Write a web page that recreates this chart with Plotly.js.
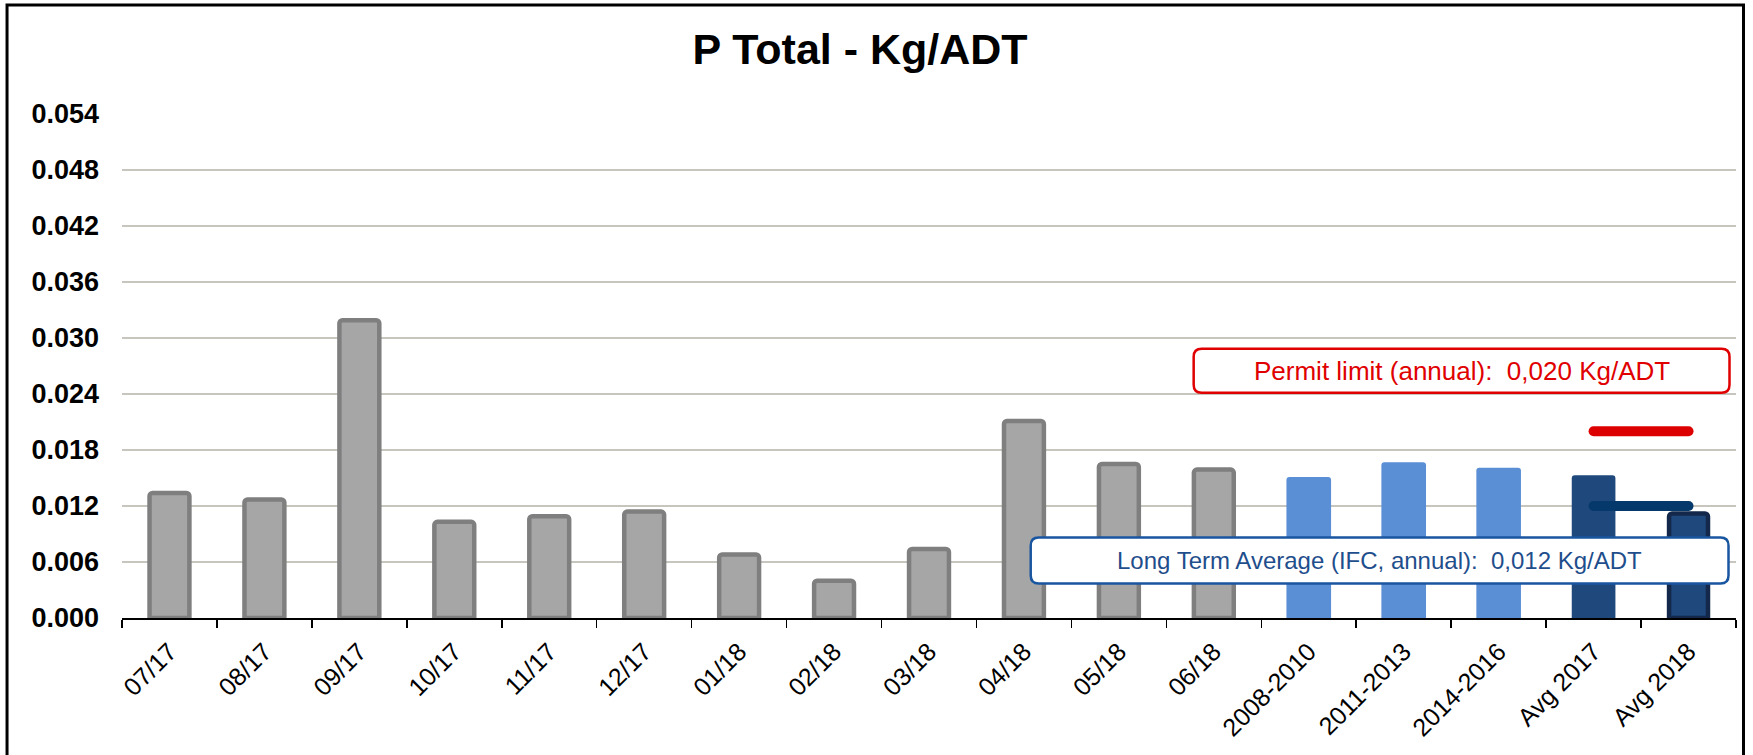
<!DOCTYPE html>
<html>
<head>
<meta charset="utf-8">
<script src="https://cdn.plot.ly/plotly-3.0.1.min.js"></script>
<style>
  html, body { margin: 0; padding: 0; background: #ffffff; }
  #chart { width: 1753px; height: 755px; }
  .js-line { stroke-linecap: round; }
</style>
</head>
<body>
<div id="chart"></div>
<script>
// ---------------- data ----------------
const categories = ['07/17','08/17','09/17','10/17','11/17','12/17','01/18','02/18','03/18','04/18','05/18','06/18',
                    '2008-2010','2011-2013','2014-2016','Avg 2017','Avg 2018'];
const monthLabels = ['07/17','08/17','09/17','10/17','11/17','12/17','01/18','02/18','03/18','04/18','05/18','06/18'];
const monthValues = [0.0134, 0.0127, 0.0319, 0.0103, 0.0109, 0.0114, 0.0068, 0.0040, 0.0074, 0.0211, 0.0165, 0.0159];
const periodLabels = ['2008-2010','2011-2013','2014-2016'];
const periodValues = [0.0151, 0.0167, 0.0161];
const avg2017Label = ['Avg 2017'];
const avg2017Value = [0.0153];
const avg2018Label = ['Avg 2018'];
const avg2018Value = [0.0112];
const limitCategories = ['Avg 2017','Avg 2018'];
const permitLimit = 0.020;
const longTermAverage = 0.012;
const yTickValues = [0, 0.006, 0.012, 0.018, 0.024, 0.030, 0.036, 0.042, 0.048, 0.054];
const titleText = 'P Total - Kg/ADT';
const permitText = 'Permit limit (annual):  0,020 Kg/ADT';
const ltaText = 'Long Term Average (IFC, annual):  0,012 Kg/ADT';

// ---------------- layout geometry ----------------
const W = 1753, H = 755;
const M = { l: 122, r: 16.5, t: 114, b: 136.5 };
const plotW = W - M.l - M.r, plotH = H - M.t - M.b;
const px = x => (x - M.l) / plotW;
const py = y => (H - M.b - y) / plotH;

function roundRect(x0, y0, x1, y1, r) {
  const rx = r / plotW, ry = r / plotH;
  const X0 = px(x0), X1 = px(x1), Y0 = py(y1), Y1 = py(y0); // Y0 bottom, Y1 top
  return `M ${X0 + rx},${Y1} L ${X1 - rx},${Y1} Q ${X1},${Y1} ${X1},${Y1 - ry} ` +
         `L ${X1},${Y0 + ry} Q ${X1},${Y0} ${X1 - rx},${Y0} L ${X0 + rx},${Y0} ` +
         `Q ${X0},${Y0} ${X0},${Y0 + ry} L ${X0},${Y1 - ry} Q ${X0},${Y1} ${X0 + rx},${Y1} Z`;
}

const FONT = '"Liberation Sans", Arial, sans-serif';

const traces = [
  { type: 'bar', x: monthLabels, y: monthValues, width: monthLabels.map(() => 0.42),
    marker: { color: '#a6a6a6', line: { color: '#7f7f7f', width: 4.5 }, cornerradius: 3 },
    hoverinfo: 'skip', showlegend: false },
  { type: 'bar', x: periodLabels, y: periodValues, width: periodLabels.map(() => 0.47),
    marker: { color: '#5a8fd6', line: { width: 0 }, cornerradius: 3 },
    hoverinfo: 'skip', showlegend: false },
  { type: 'bar', x: avg2017Label, y: avg2017Value, width: [0.46],
    marker: { color: '#1f497d', line: { width: 0 }, cornerradius: 3 },
    hoverinfo: 'skip', showlegend: false },
  { type: 'bar', x: avg2018Label, y: avg2018Value, width: [0.41],
    marker: { color: '#1f497d', line: { color: '#13284a', width: 4.5 }, cornerradius: 3 },
    hoverinfo: 'skip', showlegend: false },
  { type: 'scatter', mode: 'lines', x: limitCategories, y: limitCategories.map(() => permitLimit),
    line: { color: '#dd0000', width: 10 }, hoverinfo: 'skip', showlegend: false },
  { type: 'scatter', mode: 'lines', x: limitCategories, y: limitCategories.map(() => longTermAverage),
    line: { color: '#05386b', width: 10 }, hoverinfo: 'skip', showlegend: false }
];

const layout = {
  width: W, height: H,
  margin: M,
  paper_bgcolor: '#ffffff', plot_bgcolor: '#ffffff',
  font: { family: FONT, color: '#000000' },
  barmode: 'overlay',
  title: {
    text: '<b>' + titleText + '</b>',
    font: { family: FONT, size: 43, color: '#000000' },
    xref: 'container', x: 860 / W, xanchor: 'center',
    yref: 'container', y: 1 - 49 / H, yanchor: 'middle'
  },
  xaxis: {
    type: 'category', categoryorder: 'array', categoryarray: categories,
    range: [-0.5, categories.length - 0.5],
    showgrid: false, zeroline: false,
    showline: true, linecolor: '#000000', linewidth: 2,
    ticks: 'outside', tickson: 'boundaries', ticklen: 8, tickwidth: 1.5, tickcolor: '#000000',
    tickangle: -45,
    ticklabelstandoff: 7,
    tickfont: { family: FONT, size: 25, color: '#000000' }
  },
  yaxis: {
    range: [0, 0.054],
    tickvals: yTickValues, tickformat: '.3f',
    showgrid: true, gridcolor: '#c6c6be', gridwidth: 1.5,
    zeroline: false, showline: false, ticks: '',
    ticklabelstandoff: 22,
    tickfont: { family: FONT, size: 27, color: '#000000', weight: 'bold' }
  },
  shapes: [
    { type: 'path', xref: 'paper', yref: 'paper', layer: 'above',
      path: roundRect(1194, 349, 1730, 393, 8),
      fillcolor: '#ffffff', line: { color: '#e00000', width: 2.5 } },
    { type: 'path', xref: 'paper', yref: 'paper', layer: 'above',
      path: roundRect(1031, 538, 1729, 584, 8),
      fillcolor: '#ffffff', line: { color: '#1a56a0', width: 2.5 } },
    { type: 'rect', xref: 'paper', yref: 'paper', layer: 'above',
      x0: px(7), x1: px(1744), y0: py(765), y1: py(5),
      fillcolor: 'rgba(0,0,0,0)', line: { color: '#000000', width: 3 } }
  ],
  annotations: [
    { xref: 'paper', yref: 'paper', x: px(1462), y: py(371), xanchor: 'center', yanchor: 'middle',
      showarrow: false, text: permitText,
      font: { family: FONT, size: 26, color: '#e00000' } },
    { xref: 'paper', yref: 'paper', x: px(1380), y: py(561), xanchor: 'center', yanchor: 'middle',
      showarrow: false, text: ltaText,
      font: { family: FONT, size: 24, color: '#1f4e8c' } }
  ]
};

Plotly.newPlot('chart', traces, layout, { staticPlot: true, displayModeBar: false });
</script>
</body>
</html>
